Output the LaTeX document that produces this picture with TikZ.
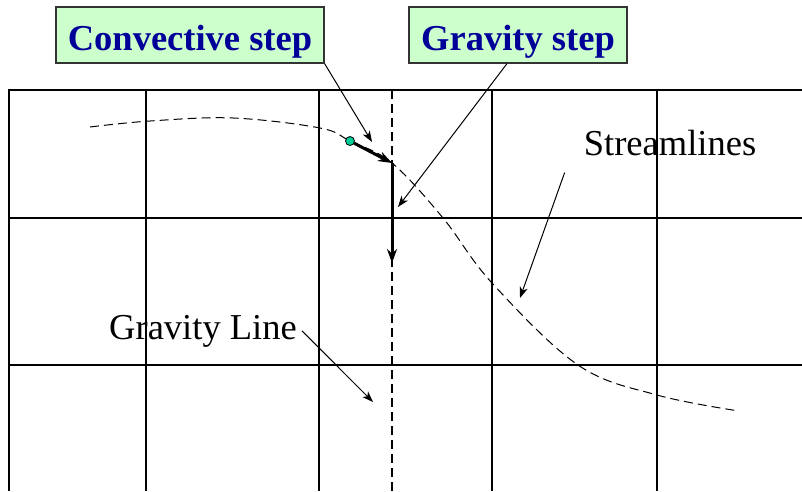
\documentclass[tikz,border=0pt]{standalone}
\usepackage{fontspec}
\setmainfont{Liberation Serif}
\usetikzlibrary{arrows.meta}
\definecolor{boxgreen}{RGB}{204,255,204}
\definecolor{labelblue}{RGB}{0,0,153}
\definecolor{dotgreen}{RGB}{0,204,153}
\begin{document}
\begin{tikzpicture}[x=1pt,y=-1pt,
  gridline/.style={line width=1.3pt},
  dashline/.style={line width=1.1pt, dash pattern=on 9pt off 5pt},
  callout/.style={line width=1pt, -{Stealth[length=11pt,width=8pt,inset=3pt]}},
  movearrow/.style={line width=3pt, -{Stealth[length=14pt,width=10pt]}},
  labelbox/.style={draw=black!80, line width=1.2pt, fill=boxgreen, text=labelblue,
    font=\fontsize{36.5}{40}\selectfont\bfseries, inner xsep=0pt, inner ysep=0pt,
    text height=43pt, text depth=13pt, anchor=base},
  plaintext/.style={font=\fontsize{36.5}{40}\selectfont, inner sep=0pt, anchor=base}]
\useasboundingbox (0,0) rectangle (802,491);
% grid
\draw[gridline] (9,491) -- (9,90) -- (802,90);
\foreach \y in {218,365} \draw[gridline] (9,\y) -- (802,\y);
\foreach \x in {146,319,492,657} \draw[gridline] (\x,90) -- (\x,491);
% gravity line (dashed vertical)
\draw[dashline] (392,90) -- (392,491);
% streamline
\draw[dashline, line width=1pt] plot[smooth, tension=0.6] coordinates
  {(90,127) (150,121) (233,118) (320,128) (350,141) (392,163) (443,218) (492,283) (578,365) (657,395) (739,411)};
% particle and steps
\coordinate (p1) at (392,163);
\coordinate (p2) at (392,263);
\node[circle, draw, fill=dotgreen, minimum size=9pt, inner sep=0pt, line width=0.8pt] (p0) at (350,141) {};
\draw[movearrow] (p0) -- (p1);
\draw[movearrow] (p1) -- (p2);
% labels
\node[labelbox, minimum width=268pt] (conv) at (190,50) {Convective step};
\node[labelbox, minimum width=218pt] (grav) at (518,50) {Gravity step};
\node[plaintext] (stream) at (670,155) {Streamlines};
\node[plaintext] (gline) at (203,339) {Gravity Line};
% callouts
\coordinate (convend) at (372,142);
\coordinate (gravend) at (398,207);
\coordinate (streamend) at (520,298);
\coordinate (glend) at (373,402);
\draw[callout] (conv.south east) -- (convend);
\draw[callout] ([xshift=-11pt]grav.south) -- (gravend);
\draw[callout] ([xshift=-19pt,yshift=-17pt]stream.south west) -- (streamend);
\draw[callout] ([xshift=5pt]gline.east) -- (glend);
\end{tikzpicture}
\end{document}
